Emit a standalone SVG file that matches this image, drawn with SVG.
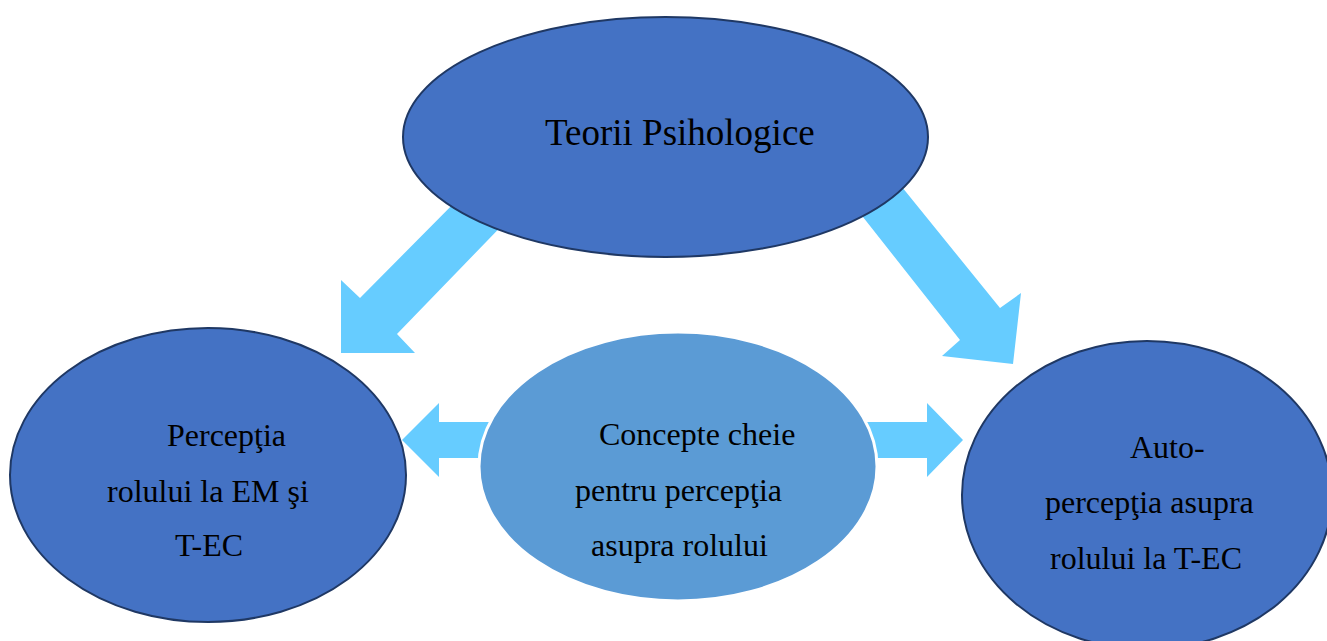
<svg xmlns="http://www.w3.org/2000/svg" width="1327" height="641" viewBox="0 0 1327 641">
<style>
.node{fill:#4472C4;stroke:#1F3864;stroke-width:2}
.mid{fill:#5B9BD5;stroke:#FFFFFF;stroke-width:3}
.arrow{fill:#66CCFF;stroke:none}
text{font-family:"Liberation Serif","Times New Roman",serif;fill:#000;font-size:32px}
.big{font-size:37px}
</style>
<rect width="1327" height="641" fill="#FFFFFF"/>
<g id="connectors">
<polygon class="arrow" points="470,187 516,211 397,334 415,353 341,353 341,280 360,298"/>
<polygon class="arrow" points="833,179 872,150 1000,308 1021,293 1013,364 942,356 960,340"/>
<polygon class="arrow" points="402,440 439,403 439,422 500,422 500,458 439,458 439,477"/>
<polygon class="arrow" points="860,422 927,422 927,403 963,440 927,477 927,458 860,458"/>
</g>
<g id="node-teorii">
<ellipse class="node" cx="665.5" cy="137" rx="262.5" ry="120"/>
<text class="big" x="545" y="145">Teorii Psihologice</text>
</g>
<g id="node-perceptia">
<ellipse class="node" cx="208" cy="475" rx="198" ry="147"/>
<text x="167" y="446">Percepţia</text>
<text x="107" y="502">rolului la EM şi</text>
<text x="175" y="556">T-EC</text>
</g>
<g id="node-concepte">
<ellipse class="mid" cx="678" cy="466.5" rx="199" ry="134.5"/>
<text x="599" y="445">Concepte cheie</text>
<text x="575" y="501">pentru percepţia</text>
<text x="591" y="556">asupra rolului</text>
</g>
<g id="node-auto">
<ellipse class="node" cx="1147" cy="495" rx="185" ry="154"/>
<text x="1130" y="458">Auto-</text>
<text x="1045" y="513">percepţia asupra</text>
<text x="1050" y="569">rolului la T-EC</text>
</g>
</svg>
